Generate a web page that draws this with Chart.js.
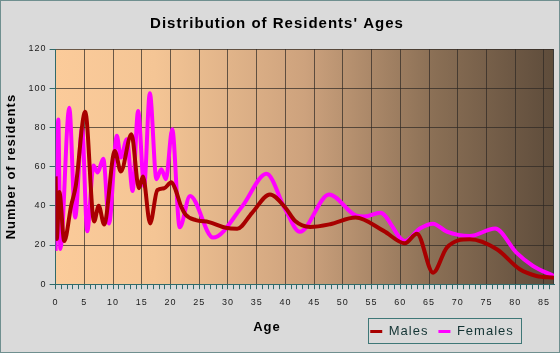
<!DOCTYPE html>
<html>
<head>
<meta charset="utf-8">
<script src="https://cdn.jsdelivr.net/npm/chart.js@4.4.1/dist/chart.umd.min.js"></script>
<style>
  html, body { margin: 0; padding: 0; background: #dadada; }
  canvas { display: block; }
</style>
</head>
<body>
<canvas id="ages" width="560" height="353"></canvas>
<script>
// ═══ DATA ═══
const maleAges = [0, 0.2, 0.65, 1.5, 2.7, 3.5, 5.15, 6.7, 7.5, 8.45, 10.3, 11.35, 13.2, 14.5, 15.2, 16.45, 17.7, 18.9, 20.15, 20.9, 21.8, 22.6, 24.4, 26.7, 29.6, 31.6, 34.2, 37.3, 40, 41.7, 44.3, 47.8, 52.2, 57.1, 60.8, 62.9, 65.7, 68.1, 72.1, 76.8, 80.8, 83.7, 86.75];
const maleCounts = [55, 23, 47, 22, 40, 50, 88, 32, 40, 30.5, 68, 57.5, 76.5, 49, 55, 31, 48, 49, 52, 48, 40, 35.6, 32.7, 31.7, 28.8, 28.3, 36.4, 45.8, 39, 32.2, 29.2, 30.6, 34, 27.2, 20.9, 25.8, 5.9, 18.7, 22.9, 17.8, 7.6, 4.2, 3.3];

const femaleAges = [0, 0.47, 0.82, 2.38, 3.4, 4.6, 5.5, 6.6, 7.3, 8.3, 9.3, 10.66, 11.35, 12.4, 13.4, 14.36, 15.4, 16.4, 17.55, 18.4, 19.2, 20.3, 21.6, 23.4, 27.4, 32.5, 36.7, 40, 42.5, 47.6, 52.2, 53.8, 56.5, 60.8, 63.4, 65.7, 68.1, 72.1, 76.5, 80.2, 83.1, 86.75];
const femaleCounts = [17, 84, 18, 90, 34, 80, 27, 60.5, 57, 64, 31, 75.7, 64.6, 74, 47.6, 88.4, 50, 97.4, 53.6, 58.7, 53.6, 79, 29, 45, 23.8, 39.8, 56.4, 38, 26.7, 45.8, 35.1, 34.5, 36.5, 22, 28.4, 30.9, 26.8, 24.6, 28.4, 16.1, 9.3, 4.2];

const seriesNames = ['Males', 'Females'];
const AGE_MAX = 86.75;
const COUNT_MAX = 120;

const toPoints = (xs, ys) => xs.map((x, i) => ({ x: x, y: ys[i] }));

// ═══ DECORATION PLUGIN ═══
const spacing = (chart) => { chart.ctx.letterSpacing = '1px'; };

const decor = {
  id: 'decor',
  beforeUpdate: spacing,
  beforeLayout: spacing,
  afterLayout(chart) {
    // park the legend inside its framed box, bottom right
    const lg = chart.legend;
    lg.left = 335; lg.right = 549; lg.width = 214;
    lg.top = 315; lg.bottom = 347; lg.height = 32;
  },
  beforeDraw(chart) {
    const { ctx, chartArea: a, width, height } = chart;
    spacing(chart);
    ctx.save();
    ctx.fillStyle = '#dadada';
    ctx.fillRect(0, 0, width, height);
    ctx.strokeStyle = '#6f8f8f';
    ctx.lineWidth = 1;
    ctx.strokeRect(0.5, 0.5, width - 1, height - 1);

    const g = ctx.createLinearGradient(a.left, 0, a.right, 0);
    g.addColorStop(0, '#fbcb9a');
    g.addColorStop(0.2, '#f4c595');
    g.addColorStop(0.5, '#cda27d');
    g.addColorStop(0.76, '#8a6f55');
    g.addColorStop(1, '#5e4c3b');
    ctx.fillStyle = g;
    ctx.fillRect(a.left, a.top, a.right - a.left, a.bottom - a.top);
    ctx.restore();
  },
  beforeDatasetsDraw(chart) {
    const { ctx, chartArea: a } = chart;
    ctx.save();
    ctx.strokeStyle = '#3a3a3a';
    ctx.lineWidth = 1;
    ctx.beginPath();
    ctx.moveTo(Math.round(a.right) - 0.5, a.top);
    ctx.lineTo(Math.round(a.right) - 0.5, a.bottom);
    ctx.stroke();
    ctx.restore();
  },
  afterDraw(chart) {
    const { ctx } = chart;
    ctx.save();
    spacing(chart);
    ctx.fillStyle = '#000';
    ctx.font = 'bold 13px "Liberation Sans", Arial, sans-serif';
    ctx.textAlign = 'center';
    ctx.textBaseline = 'middle';
    ctx.fillText('Age', 267, 327);
    ctx.strokeStyle = '#3f7777';
    ctx.lineWidth = 1;
    ctx.strokeRect(368.5, 318.5, 153, 25);
    ctx.restore();
  }
};

// ═══ CHART ═══
const FONT = '"Liberation Sans", Arial, sans-serif';
const gridColor = 'rgba(45,40,35,0.7)';
const axisColor = '#2f6a6a';

new Chart(document.getElementById('ages'), {
  type: 'line',
  data: {
    datasets: [
      {
        label: seriesNames[0],
        data: toPoints(maleAges, maleCounts),
        borderColor: '#a80000',
        backgroundColor: '#a80000',
        borderWidth: 4,
        pointRadius: 0,
        cubicInterpolationMode: 'monotone',
      },
      {
        label: seriesNames[1],
        data: toPoints(femaleAges, femaleCounts),
        borderColor: '#ff00ff',
        backgroundColor: '#ff00ff',
        borderWidth: 4,
        pointRadius: 0,
        cubicInterpolationMode: 'monotone',
      }
    ]
  },
  options: {
    responsive: false,
    animation: false,
    devicePixelRatio: 1,
    layout: { padding: { left: 0, right: 6, top: 0, bottom: 4 } },
    plugins: {
      title: {
        display: true,
        text: "Distribution of Residents' Ages",
        color: '#000',
        font: { family: FONT, size: 15, weight: 'bold' },
        padding: { top: 15, bottom: 16 }
      },
      legend: {
        position: 'bottom',
        align: 'center',
        labels: {
          color: '#143434',
          font: { family: FONT, size: 13 },
          boxWidth: 12,
          boxHeight: 3,
          padding: 10,
          generateLabels(chart) {
            return Chart.defaults.plugins.legend.labels.generateLabels(chart)
              .map(item => Object.assign(item, { lineWidth: 0 }));
          }
        }
      },
      tooltip: { enabled: false }
    },
    scales: {
      x: {
        type: 'linear',
        min: 0,
        max: AGE_MAX,
        border: { color: axisColor },
        grid: {
          color: c => (c.tick && c.tick.value % 5 === 0) ? gridColor : 'rgba(0,0,0,0)',
          tickColor: axisColor,
          tickLength: 5
        },
        ticks: {
          stepSize: 1,
          autoSkip: false,
          includeBounds: false,
          maxRotation: 0,
          padding: 8,
          color: '#1c1c1c',
          font: { family: FONT, size: 9 },
          callback: v => (v % 5 === 0 ? String(v) : '')
        }
      },
      y: {
        min: 0,
        max: COUNT_MAX,
        border: { color: axisColor },
        grid: { color: gridColor, tickColor: axisColor, tickLength: 6 },
        ticks: {
          stepSize: 20,
          padding: 3,
          color: '#1c1c1c',
          font: { family: FONT, size: 9 }
        },
        title: {
          display: true,
          text: 'Number of residents',
          color: '#000',
          font: { family: FONT, size: 13, weight: 'bold' },
          padding: { top: 4, bottom: 6 }
        }
      }
    }
  },
  plugins: [decor]
});
</script>
</body>
</html>
